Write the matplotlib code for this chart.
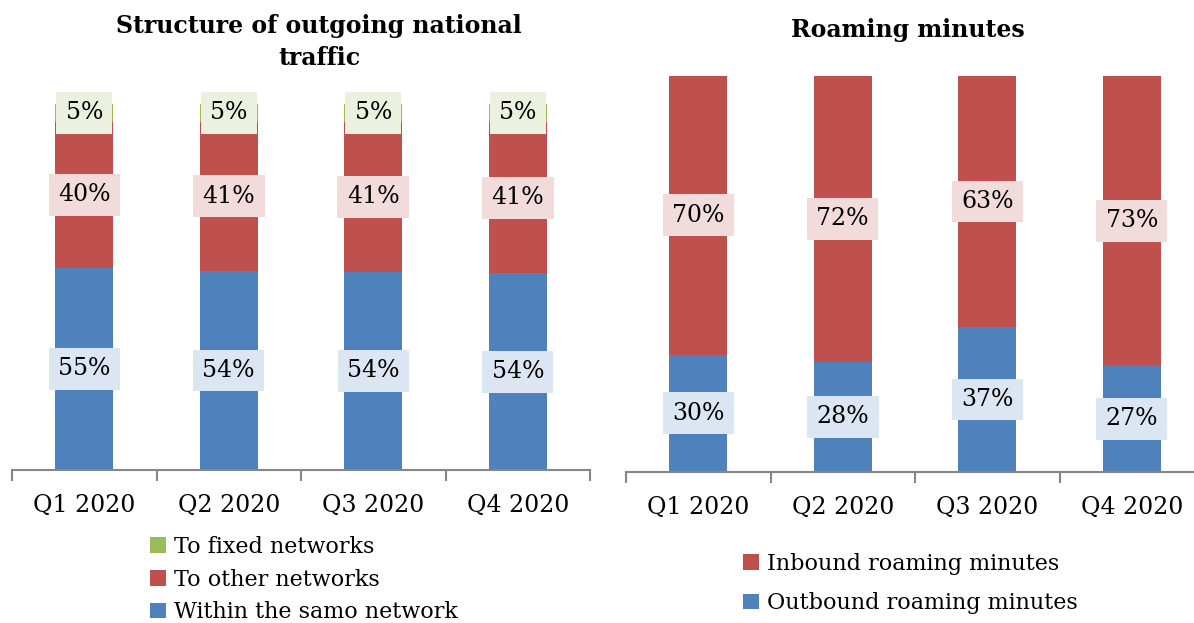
import matplotlib.pyplot as plt
import numpy as np

quarters = ['Q1 2020', 'Q2 2020', 'Q3 2020', 'Q4 2020']
within_net = [55.3, 54.4, 54.2, 53.7]
other_net = [39.8, 40.7, 40.9, 41.4]
fixed_net = [4.9, 4.9, 4.9, 4.9]
outbound = [29.6, 27.8, 36.6, 26.8]
inbound = [70.4, 72.2, 63.4, 73.2]

blue, red, green = '#4F81BD', '#C0504D', '#9BBB59'
blue_lt, red_lt, green_lt = '#DCE6F2', '#F2DCDB', '#EBF1DE'
grey = '#868686'

plt.rcParams['font.family'] = ['DejaVu Serif']
fs = 17

fig = plt.figure(figsize=(11.94, 6.23), dpi=100)
ax1 = fig.add_axes([12 / 1194, 1 - 470 / 623, 578 / 1194, 366 / 623])
ax2 = fig.add_axes([626 / 1194, 1 - 472 / 623, 578 / 1194, 396 / 623])

x = np.arange(len(quarters))
w = 0.4


def label_seg(ax, bottoms, vals, bg):
    for xi, b, v in zip(x, bottoms, vals):
        ax.text(xi, b + v / 2, f'{v:.0f}%', ha='center', va='center',
                fontsize=17, color='black', zorder=5, clip_on=False,
                bbox=dict(facecolor=bg, edgecolor='none', boxstyle='square,pad=0.4'))


def style(ax):
    ax.set_xlim(-0.5, 3.5)
    ax.set_ylim(0, 100)
    for s in ['left', 'right', 'top']:
        ax.spines[s].set_visible(False)
    ax.spines['bottom'].set_color(grey)
    ax.spines['bottom'].set_linewidth(1.5)
    ax.set_yticks([])
    ax.set_xticks(x)
    ax.set_xticklabels(quarters, fontsize=fs)
    ax.tick_params(axis='x', which='major', length=0, pad=17)
    ax.set_xticks(np.arange(-0.5, 4, 1), minor=True)
    ax.tick_params(axis='x', which='minor', length=8, width=1.5, color=grey)


# left chart
b1 = ax1.bar(x, within_net, w, color=blue)
b2 = ax1.bar(x, other_net, w, bottom=within_net, color=red)
bot3 = np.array(within_net) + np.array(other_net)
b3 = ax1.bar(x, fixed_net, w, bottom=bot3, color=green)
label_seg(ax1, [0] * 4, within_net, blue_lt)
label_seg(ax1, within_net, other_net, red_lt)
label_seg(ax1, bot3, fixed_net, green_lt)
style(ax1)
fig.text(319 / 1194, 1 - 42 / 623, 'Structure of outgoing national\ntraffic',
         ha='center', va='center', fontsize=17, fontweight='bold',
         linespacing=1.45)
fig.legend([b3, b2, b1], ['To fixed networks', 'To other networks', 'Within the samo network'],
           loc='upper left', bbox_to_anchor=(150 / 1194, 1 - 536 / 623),
           frameon=False, fontsize=16, borderpad=0, borderaxespad=0,
           handlelength=0.7, handleheight=0.7, handletextpad=0.4, labelspacing=0.48)

# right chart
r1 = ax2.bar(x, outbound, w, color=blue)
r2 = ax2.bar(x, inbound, w, bottom=outbound, color=red)
label_seg(ax2, [0] * 4, outbound, blue_lt)
label_seg(ax2, outbound, inbound, red_lt)
style(ax2)
fig.text(908 / 1194, 1 - 30 / 623, 'Roaming minutes', ha='center', va='center',
         fontsize=17, fontweight='bold')
fig.legend([r2, r1], ['Inbound roaming minutes', 'Outbound roaming minutes'],
           loc='upper left', bbox_to_anchor=(743 / 1194, 1 - 553 / 623),
           frameon=False, fontsize=16, borderpad=0, borderaxespad=0,
           handlelength=0.7, handleheight=0.7, handletextpad=0.4, labelspacing=0.78)

fig.savefig('out.png', dpi=100)
